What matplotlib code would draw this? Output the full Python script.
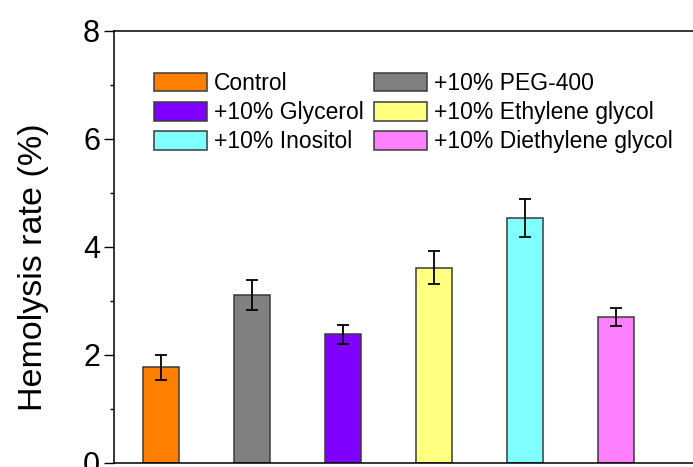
import numpy as np
import matplotlib
matplotlib.use('Agg')
import matplotlib.pyplot as plt
from matplotlib.ticker import MultipleLocator

plt.rcParams['font.family'] = ['Liberation Sans', 'DejaVu Sans']

labels = ['Control', '+10% PEG-400', '+10% Glycerol',
          '+10% Ethylene glycol', '+10% Inositol', '+10% Diethylene glycol']
rate = [1.77, 3.11, 2.38, 3.62, 4.53, 2.71]
err = [0.23, 0.27, 0.18, 0.31, 0.35, 0.165]
colors = ['#FF8000', '#808080', '#8000FF', '#FFFF80', '#80FFFF', '#FF80FF']

fig = plt.figure(figsize=(6.93, 4.67), dpi=100)
W, H = 693, 467
ax = fig.add_axes([114 / W, 4 / H, 600 / W, 432 / H])

x = np.arange(1, len(rate) + 1)
bars = []
for i in range(len(rate)):
    b = ax.bar(x[i], rate[i], width=0.4, color=colors[i], edgecolor='#3a3a3a',
               linewidth=1.1, label=labels[i], zorder=2)
    bars.append(b)
ax.errorbar(x, rate, yerr=err, fmt='none', ecolor='black', elinewidth=1.3,
            capsize=4, capthick=1.3, zorder=3)

ax.set_xlim(1 - 47 / 91, 1 - 47 / 91 + 600 / 91)
ax.set_ylim(0, 8)
ax.yaxis.set_major_locator(MultipleLocator(2))
ax.yaxis.set_minor_locator(MultipleLocator(1))
ax.tick_params(axis='y', which='major', direction='out', length=7, width=1.0,
               labelsize=22, pad=3)
ax.tick_params(axis='y', which='minor', direction='out', length=3, width=1.0)
ax.tick_params(axis='x', bottom=False, labelbottom=False)
for s in ax.spines.values():
    s.set_linewidth(1.1)

ax.set_ylabel('Hemolysis rate (%)', fontsize=24.5)
ax.yaxis.set_label_coords(-0.108, (463 - 267) / 432)

# legend order: column-wise fill
leg = ax.legend(handles=[bars[0], bars[2], bars[4], bars[1], bars[3], bars[5]],
                labels=[labels[0], labels[2], labels[4], labels[1], labels[3], labels[5]],
                ncol=2, loc='upper left', bbox_to_anchor=(154 / W, 1 - 72 / H),
                bbox_transform=fig.transFigure, frameon=False, fontsize=16.5,
                handlelength=2.3, handleheight=0.87, handletextpad=0.3,
                labelspacing=0.27, columnspacing=0.48, borderpad=0, borderaxespad=0)

fig.savefig('out.png', dpi=100)
